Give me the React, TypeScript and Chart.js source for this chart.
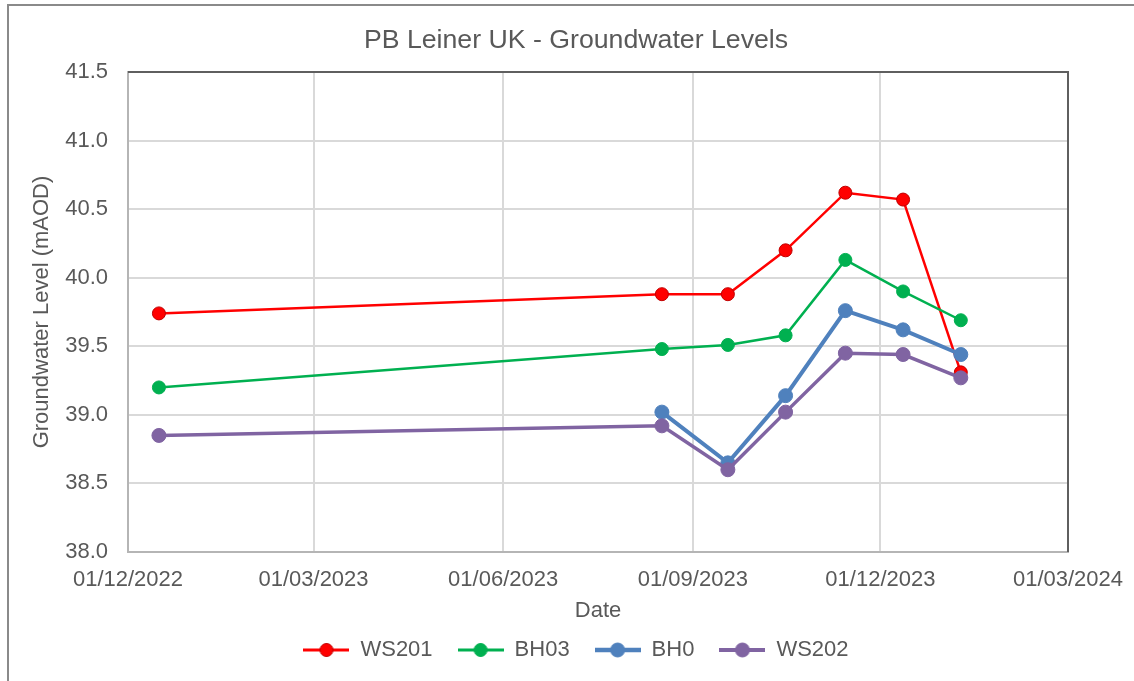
import React, { useEffect, useRef } from 'react';
import { Chart, registerables } from 'chart.js';

Chart.register(...registerables);

const chartTitle = 'PB Leiner UK - Groundwater Levels';
const xAxisTitle = 'Date';
const yAxisTitle = 'Groundwater Level (mAOD)';

const sampleDates = ['2022-12-16', '2023-08-17', '2023-09-18', '2023-10-16', '2023-11-14', '2023-12-12', '2024-01-09'];
const tickDates = ['2022-12-01', '2023-03-01', '2023-06-01', '2023-09-01', '2023-12-01', '2024-03-01'];

const seriesNames = ['WS201', 'BH03', 'BH0', 'WS202'];
const ws201 = [39.74, 39.88, 39.88, 40.2, 40.62, 40.57, 39.31];
const bh03 = [39.2, 39.48, 39.51, 39.58, 40.13, 39.9, 39.69];
const bh0 = [null, 39.02, 38.65, 39.14, 39.76, 39.62, 39.44];
const ws202 = [38.85, 38.92, 38.6, 39.02, 39.45, 39.44, 39.27];

const yMin = 38.0;
const yMax = 41.5;
const yStep = 0.5;

const seriesColors = ['#ff0000', '#00b050', '#4f81bd', '#8064a2'];
const seriesPointBorders = ['#c00000', '#00b050', '#4f81bd', '#8064a2'];
const seriesLineWidths = [2.5, 2.5, 4, 3.5];
const seriesPointRadius = [6.5, 6.5, 7, 7];

const ORIGIN = Date.UTC(2022, 11, 1);
function dayOf(s: string): number {
  const [y, m, d] = s.split('-').map(Number);
  return (Date.UTC(y, m - 1, d) - ORIGIN) / 86400000;
}
function fmtDate(s: string): string {
  const [y, m, d] = s.split('-');
  return `${d}/${m}/${y}`;
}

const TEXT = '#595959';

function legendMarker(color: string, lw: number, border: string, r: number) {
  const c = document.createElement('canvas');
  c.width = 46;
  c.height = 18;
  const ctx = c.getContext('2d')!;
  ctx.strokeStyle = color;
  ctx.lineWidth = lw;
  ctx.beginPath();
  ctx.moveTo(0, 9);
  ctx.lineTo(46, 9);
  ctx.stroke();
  ctx.beginPath();
  ctx.arc(23, 9, r, 0, Math.PI * 2);
  ctx.fillStyle = color;
  ctx.fill();
  ctx.strokeStyle = border;
  ctx.lineWidth = 1;
  ctx.stroke();
  return c;
}

const framePlugin = {
  id: 'frame',
  beforeDraw(chart: any) {
    const ctx = chart.ctx;
    ctx.save();
    ctx.fillStyle = '#ffffff';
    ctx.fillRect(0, 0, chart.width, chart.height);
    ctx.strokeStyle = '#8a8a8a';
    ctx.lineWidth = 2;
    ctx.beginPath();
    ctx.moveTo(8, chart.height);
    ctx.lineTo(8, 5);
    ctx.lineTo(chart.width, 5);
    ctx.stroke();
    ctx.restore();
  },
  beforeDatasetsDraw(chart: any) {
    const ctx = chart.ctx;
    const { left, top, right, bottom } = chart.chartArea;
    ctx.save();
    ctx.strokeStyle = '#5f5f5f';
    ctx.lineWidth = 2;
    ctx.beginPath();
    ctx.moveTo(left, top);
    ctx.lineTo(right, top);
    ctx.lineTo(right, bottom);
    ctx.stroke();
    ctx.restore();
  },
};

export default function App() {
  const ref = useRef<HTMLCanvasElement>(null);

  useEffect(() => {
    if (!ref.current) return;
    Chart.defaults.font.family = "'Liberation Sans', Arial, sans-serif";
    Chart.defaults.color = TEXT;

    const allSeries = [ws201, bh03, bh0, ws202];
    const markers = seriesNames.map((_, i) =>
      legendMarker(seriesColors[i], seriesLineWidths[i] + 0.5, seriesPointBorders[i], seriesPointRadius[i])
    );
    const tickDays = tickDates.map(dayOf);

    const datasets = seriesNames.map((name, i) => ({
      label: name,
      data: sampleDates.map((d, j) => ({ x: dayOf(d), y: allSeries[i][j] })),
      borderColor: seriesColors[i],
      backgroundColor: seriesColors[i],
      borderWidth: seriesLineWidths[i],
      pointBackgroundColor: seriesColors[i],
      pointBorderColor: seriesPointBorders[i],
      pointBorderWidth: 1,
      pointRadius: seriesPointRadius[i],
      tension: 0,
      spanGaps: false,
      order: seriesNames.length - i,
    }));

    const chart = new Chart(ref.current, {
      type: 'line',
      data: { datasets },
      plugins: [framePlugin],
      options: {
        animation: false,
        responsive: false,
        layout: { padding: { left: 18, right: 0, top: 0, bottom: 10 } },
        plugins: {
          title: {
            display: true,
            text: chartTitle,
            color: TEXT,
            font: { size: 26.7, weight: 'normal' },
            padding: { top: 24.5, bottom: 15.5 },
          },
          legend: {
            display: true,
            position: 'bottom',
            labels: {
              usePointStyle: true,
              pointStyleWidth: 46,
              padding: 25,
              color: TEXT,
              font: { size: 22 },
              generateLabels: (c: any) =>
                c.data.datasets.map((ds: any, i: number) => ({
                  text: ds.label,
                  pointStyle: markers[i],
                  fillStyle: ds.borderColor,
                  strokeStyle: ds.borderColor,
                  lineWidth: 0,
                  hidden: false,
                  datasetIndex: i,
                  fontColor: TEXT,
                })),
            },
          },
          tooltip: { enabled: false },
        },
        scales: {
          x: {
            type: 'linear',
            min: tickDays[0],
            max: tickDays[tickDays.length - 1],
            afterBuildTicks: (scale: any) => {
              scale.ticks = tickDays.map((v) => ({ value: v }));
            },
            afterFit: (scale: any) => {
              scale.height = 62;
              scale.paddingLeft = 0;
              scale.paddingRight = 0;
            },
            ticks: {
              autoSkip: false,
              maxRotation: 0,
              padding: 15,
              color: TEXT,
              font: { size: 22 },
              callback: (_v: any, idx: number) => fmtDate(tickDates[idx]),
            },
            grid: { color: '#d9d9d9', lineWidth: 2, drawTicks: false },
            border: { color: '#b5b5b5', width: 2 },
            title: {
              display: true,
              text: xAxisTitle,
              color: TEXT,
              font: { size: 22 },
              padding: { top: 0, bottom: -10 },
            },
          },
          y: {
            type: 'linear',
            position: 'left',
            min: yMin,
            max: yMax,
            afterFit: (scale: any) => {
              scale.width = 110;
            },
            ticks: {
              stepSize: yStep,
              padding: 20,
              color: TEXT,
              font: { size: 22 },
              callback: (v: any) => Number(v).toFixed(1),
            },
            grid: { color: '#d9d9d9', lineWidth: 2, drawTicks: false },
            border: { color: '#b5b5b5', width: 2 },
            title: {
              display: true,
              text: yAxisTitle,
              color: TEXT,
              font: { size: 22 },
              padding: { top: 11, bottom: 0 },
            },
          },
          yRight: {
            type: 'linear',
            position: 'right',
            display: true,
            afterFit: (scale: any) => {
              scale.width = 66;
            },
            ticks: { display: false },
            grid: { display: false, drawTicks: false },
            border: { display: false },
          },
        },
      } as any,
    });

    return () => chart.destroy();
  }, []);

  return (
    <div style={{ position: 'absolute', left: 0, top: 0, width: 1134, height: 681 }}>
      <canvas ref={ref} width={1134} height={681} style={{ display: 'block' }} />
    </div>
  );
}
